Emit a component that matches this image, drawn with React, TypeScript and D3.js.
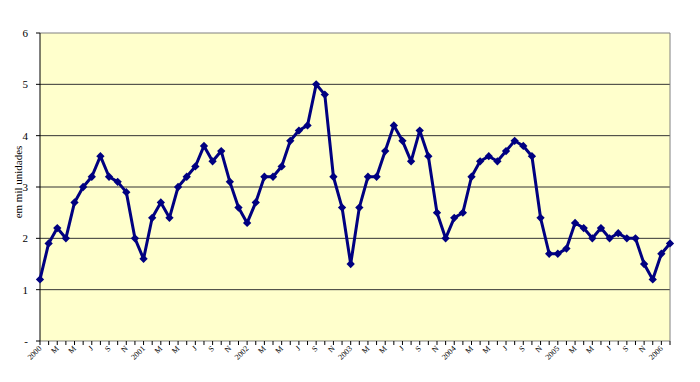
import React from "react";
import * as d3 from "d3";

const years = ["2000", "2001", "2002", "2003", "2004", "2005", "2006"];
const monthLabels = ["", "", "M", "", "M", "", "J", "", "S", "", "N", ""];
const values2000 = [1.2, 1.9, 2.2, 2.0, 2.7, 3.0, 3.2, 3.6, 3.2, 3.1, 2.9, 2.0];
const values2001 = [1.6, 2.4, 2.7, 2.4, 3.0, 3.2, 3.4, 3.8, 3.5, 3.7, 3.1, 2.6];
const values2002 = [2.3, 2.7, 3.2, 3.2, 3.4, 3.9, 4.1, 4.2, 5.0, 4.8, 3.2, 2.6];
const values2003 = [1.5, 2.6, 3.2, 3.2, 3.7, 4.2, 3.9, 3.5, 4.1, 3.6, 2.5, 2.0];
const values2004 = [2.4, 2.5, 3.2, 3.5, 3.6, 3.5, 3.7, 3.9, 3.8, 3.6, 2.4, 1.7];
const values2005 = [1.7, 1.8, 2.3, 2.2, 2.0, 2.2, 2.0, 2.1, 2.0, 2.0, 1.5, 1.2];
const values2006 = [1.7, 1.9];
const yTicks = [0, 1, 2, 3, 4, 5, 6];
const yTickLabels = ["-", "1", "2", "3", "4", "5", "6"];
const yTitle = "em mil unidades";

const allValues = [
  ...values2000, ...values2001, ...values2002, ...values2003,
  ...values2004, ...values2005, ...values2006,
];
const data = allValues.map((v, i) => {
  const y = Math.floor(i / 12);
  const m = i % 12;
  return { i, v, label: m === 0 ? years[y] : monthLabels[m] };
});

const W = 700, H = 382;
const L = 40, R = 670, T = 33, B = 341;

export default function App() {
  const x = d3.scaleLinear().domain([0, data.length - 1]).range([L, R]);
  const y = d3.scaleLinear().domain([0, 6]).range([B, T]);
  const line = d3.line<{ i: number; v: number }>().x(d => x(d.i)).y(d => y(d.v));
  const diamond = d3.symbol().type(d3.symbolDiamond2).size(44)() as string;
  const font = "'Liberation Serif', 'Times New Roman', serif";
  return (
    <svg width={W} height={H} style={{ position: "fixed", left: 0, top: 0, background: "#fff" }}>
      <rect x={L} y={T} width={R - L} height={B - T} fill="#FFFFCC" />
      {yTicks.filter(t => t > 0 && t < 6).map(t => (
        <line key={t} x1={L} x2={R} y1={y(t)} y2={y(t)} stroke="#333" strokeWidth={1} />
      ))}
      <line x1={L} x2={R} y1={T} y2={T} stroke="#808080" />
      <line x1={R} x2={R} y1={T} y2={B} stroke="#808080" />
      <line x1={L} x2={R} y1={B} y2={B} stroke="#808080" />
      <line x1={L} x2={L} y1={T} y2={B} stroke="#000" />
      {yTicks.map((t, k) => (
        <g key={t}>
          <line x1={L - 4} x2={L} y1={y(t)} y2={y(t)} stroke="#000" />
          <text x={28} y={y(t) + 4} textAnchor="end" fontFamily={font} fontSize={11} fill="#000">
            {yTickLabels[k]}
          </text>
        </g>
      ))}
      <text transform={`translate(22,${(T + B) / 2 - 5}) rotate(-90)`} textAnchor="middle"
        fontFamily={font} fontSize={11} fill="#000">{yTitle}</text>
      {data.map(d => (
        <line key={"t" + d.i} x1={x(d.i)} x2={x(d.i)} y1={B} y2={B + 4} stroke="#000" />
      ))}
      {data.filter(d => d.label).map(d => (
        <text key={"l" + d.i} transform={`translate(${x(d.i) + 2},${B + 8}) rotate(-45)`}
          textAnchor="end" fontFamily={font} fontSize={8} fill="#000">{d.label}</text>
      ))}
      <path d={line(data) || ""} fill="none" stroke="#000080" strokeWidth={3} strokeLinejoin="round" />
      {data.map(d => (
        <path key={"m" + d.i} d={diamond} transform={`translate(${x(d.i)},${y(d.v)})`} fill="#000080" />
      ))}
    </svg>
  );
}
